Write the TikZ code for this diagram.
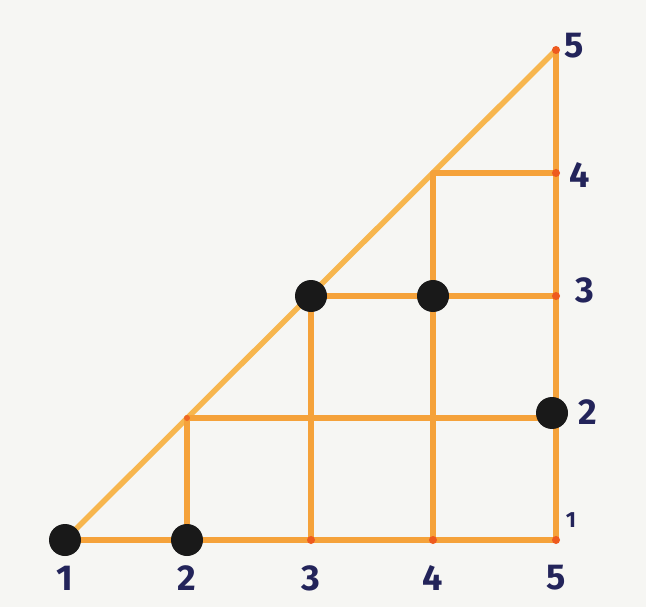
\documentclass[tikz,border=0pt]{standalone}
\usepackage{fontspec}
\setmainfont{Fira Sans}
\definecolor{paper}{HTML}{F6F6F3}
\definecolor{org}{HTML}{F5A23A}
\definecolor{diag}{HTML}{F7B64E}
\definecolor{ink}{HTML}{23245A}
\definecolor{tip}{HTML}{EE5A1E}
\tikzset{
  ln/.style={draw=org, line width=5.5pt, line cap=round},
  dg/.style={draw=diag, line width=5.5pt, line cap=round},
  bigdot/.style={circle, fill=black!90, inner sep=0pt, minimum size=32pt},
  tipdot/.style={circle, fill=tip, inner sep=0pt, minimum size=8pt},
  lab/.style={text=ink, font=\bfseries\fontsize{36}{36}\selectfont, inner sep=0pt},
  smlab/.style={text=ink, font=\bfseries\fontsize{22}{22}\selectfont, inner sep=0pt}
}
\begin{document}
\begin{tikzpicture}[x=1pt,y=-1pt]
\fill[paper] (0,0) rectangle (646,607);
\useasboundingbox (0,0) rectangle (646,607);
% coordinates
\coordinate (b1) at (65,540);
\coordinate (b2) at (187,540);
\coordinate (b3) at (311,540);
\coordinate (b4) at (433,540);
\coordinate (b5) at (556,540);
\coordinate (d2) at (187,418);
\coordinate (d3) at (311,296);
\coordinate (d4) at (433,173);
\coordinate (d5) at (556,50);
\coordinate (m43) at (433,296);
\coordinate (r2) at (556,418);
\coordinate (r3) at (556,296);
\coordinate (r4) at (556,173);
% lines
\draw[dg] (b1) -- (d5);
\draw[ln] (b1) -- (b5);
\draw[ln] (b5) -- (d5);
\draw[ln] (b2) -- (d2);
\draw[ln] (b3) -- (d3);
\draw[ln] (b4) -- (d4);
\draw[ln] (d2) -- (r2);
\draw[ln] (d3) -- (r3);
\draw[ln] (d4) -- (r4);
% small tips
\node[tipdot] (t1) at (b3) {};
\node[tipdot] (t2) at (b4) {};
\node[tipdot] (t3) at (b5) {};
\node[tipdot] (t4) at (r3) {};
\node[tipdot] (t5) at (r4) {};
\node[tipdot] (t6) at (d5) {};
\node[tipdot, minimum size=6pt, fill=tip!80!org] (t7) at (d2) {};
% big dots
\node[bigdot] (p1) at (b1) {};
\node[bigdot] (p2) at (b2) {};
\node[bigdot] (p3) at (d3) {};
\node[bigdot] (p4) at (m43) {};
\node[bigdot] (p5) at (552,413) {};
% labels bottom
\node[lab] (l1) at (65,578) {1};
\node[lab] (l2) at (187,578) {2};
\node[lab] (l3) at (311,578) {3};
\node[lab] (l4) at (433,578) {4};
\node[lab] (l5) at (556,578) {5};
% labels right
\node[lab] (r5l) at (574,46) {5};
\node[lab] (r4l) at (580,175) {4};
\node[lab] (r3l) at (585,290) {3};
\node[lab] (r2l) at (588,412) {2};
\node[smlab] (r1l) at (571,520) {1};
\end{tikzpicture}
\end{document}
